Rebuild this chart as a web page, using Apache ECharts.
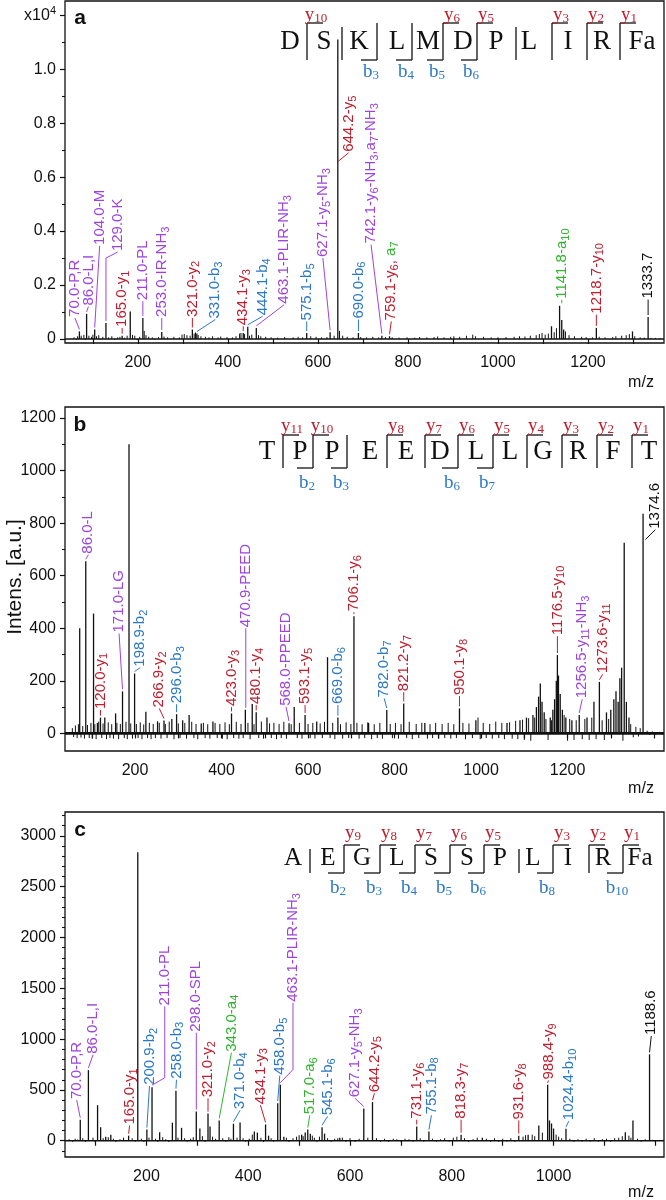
<!DOCTYPE html>
<html><head><meta charset="utf-8">
<script src="https://cdn.jsdelivr.net/npm/echarts@6/dist/echarts.min.js"></script>
<style>html,body{margin:0;padding:0;background:#fff}#c{width:666px;height:1200px}</style>
</head><body><div id="c"></div>
<script>
// ================= DATA =================
// Panel a (intensity in x10^4)
const peaksA = [[70,0.028],[86,0.093],[104,0.035],[129,0.059],[165,0.012],[183,0.102],[211,0.078],[253,0.026],[321,0.035],[331,0.02],[434.1,0.022],[444.1,0.045],[463.1,0.041],[575.1,0.022],[627.1,0.025],[644.2,1.11],[690,0.022],[742.1,0.012],[759.1,0.01],[1119,0.047],[1137,0.123],[1141.8,0.07],[1146,0.035],[1218.7,0.041],[1299,0.028],[1333.7,0.081]];
const noiseA = [[58,0.006],[63,-0.003],[66,0.01],[74,0.012],[80,0.015],[83,-0.004],[91,0.012],[97,0.008],[100,0.016],[108,0.01],[113,0.014],[118,-0.003],[122,0.008],[135,0.006],[142,0.01],[148,-0.004],[155,0.006],[160,0.008],[170,0.005],[176,0.012],[188,0.015],[193,0.012],[198,-0.004],[204,0.008],[214,0.03],[218,0.014],[224,0.008],[232,0.006],[238,-0.003],[246,0.007],[258,0.009],[266,0.006],[280,0.008],[292,0.006],[298,0.016],[303,0.018],[309,0.014],[316,0.012],[325,0.02],[328,0.024],[334,0.015],[340,0.01],[350,0.008],[358,0.006],[366,0.01],[378,0.006],[384,0.009],[398,0.007],[410,0.006],[418,0.01],[426,0.02],[429,0.022],[437,0.018],[448,0.012],[453,0.016],[468,0.014],[473,0.01],[484,0.008],[496,0.006],[510,0.005],[526,0.007],[545,0.006],[556,0.008],[566,0.006],[584,0.01],[596,0.008],[608,0.006],[620,0.007],[636,0.012],[648,0.03],[655,0.012],[665,0.008],[678,0.006],[695,0.007],[708,0.006],[722,0.008],[735,0.006],[750,0.007],[765,0.006],[780,0.005],[798,0.006],[815,0.005],[826,0.007],[842,0.006],[858,0.007],[866,0.009],[880,0.006],[895,0.008],[902,0.01],[915,0.008],[930,0.012],[944,0.016],[950,0.01],[968,0.008],[985,0.006],[1000,0.006],[1018,0.007],[1036,0.008],[1048,0.01],[1060,0.009],[1072,0.012],[1085,0.014],[1092,0.018],[1098,0.022],[1105,0.016],[1112,0.02],[1125,0.025],[1130,0.04],[1150,0.028],[1158,0.014],[1170,0.01],[1186,0.008],[1196,0.007],[1210,0.006],[1225,0.008],[1238,0.006],[1255,0.007],[1262,0.01],[1275,0.012],[1285,0.014],[1292,0.018],[1304,0.01],[1316,0.006],[1325,0.005],[1340,0.004],[1350,0.004],[1360,0.003]];
const labelsA = [
 [70,'70.0-P,R','p'],[86,'86.0-L,I','p'],[104,'104.0-M','p'],[129,'129.0-K','p'],
 [165,'165.0-y{s|1}','r'],[211,'211.0-PL','p'],[253,'253.0-IR-NH{s|3}','p'],
 [321,'321.0-y{s|2}','r'],[331,'331.0-b{s|3}','b'],[434.1,'434.1-y{s|3}','r'],
 [444.1,'444.1-b{s|4}','b'],[463.1,'463.1-PLIR-NH{s|3}','p'],[575.1,'575.1-b{s|5}','b'],
 [627.1,'627.1-y{s|5}-NH{s|3}','p'],[644.2,'644.2-y{s|5}','r'],[690,'690.0-b{s|6}','b'],
 [742.1,'742.1-y{s|6}-NH{s|3},a{s|7}-NH{s|3}','p'],[759.1,'759.1-y{s|6}, {g|a}{gs|7}','r'],
 [1141.8,'1141.8-a{s|10}','g'],[1218.7,'1218.7-y{s|10}','r'],[1333.7,'1333.7','k']
];
// Panel b (a.u.)
const peaksB = [[72,400],[86,655],[104,456],[113,40],[120,60],[130,60],[155,76],[171,160],[186,1100],[198.9,228],[225,82],[252,46],[266.9,49],[285,55],[296,73],[310,50],[325,70],[353,38],[380,45],[423,76],[455,90],[470.9,112],[480.1,80],[505,60],[556,39],[568,100],[593.1,70],[620,45],[645,290],[669,60],[706.1,446],[740,40],[782,89],[821.2,114],[870,40],[950.1,95],[988,50],[1060,40],[1090,50],[1105,60],[1120,70],[1128,100],[1133,140],[1137,190],[1141,120],[1146,80],[1160,60],[1166,90],[1170,130],[1174,200],[1176.5,298],[1179,220],[1183,150],[1188,90],[1196,60],[1210,50],[1227,70],[1245,60],[1261,120],[1273.6,196],[1290,80],[1300,90],[1307,130],[1312,160],[1317,120],[1321,210],[1325,250],[1331,725],[1336,120],[1342,60],[1374.6,836]];
const noiseB = [[55,20],[58,-14],[62,30],[66,-18],[69,35],[75,-16],[79,28],[83,-20],[90,32],[94,-18],[98,40],[101,-20],[107,35],[110,-22],[116,45],[123,-18],[126,38],[134,-22],[138,42],[142,-18],[146,35],[150,-20],[158,40],[162,-22],[166,36],[175,-18],[179,44],[182,-22],[190,38],[194,-20],[203,36],[207,-18],[212,42],[216,-22],[220,34],[229,-18],[233,40],[237,-22],[242,36],[247,-18],[256,40],[260,-20],[270,36],[274,-18],[279,45],[290,-22],[300,38],[304,-18],[315,40],[319,-20],[331,44],[336,-18],[341,36],[345,-22],[358,40],[362,-18],[368,35],[373,-20],[385,40],[390,-18],[396,36],[402,-20],[408,42],[413,-22],[418,35],[428,-18],[434,44],[440,-20],[445,36],[450,-18],[461,40],[466,-22],[475,35],[486,-18],[492,45],[497,-20],[511,38],[515,-18],[521,40],[527,-22],[533,36],[538,-18],[544,44],[550,-20],[561,35],[575,-18],[580,40],[586,-20],[600,36],[605,-18],[611,40],[616,-20],[628,38],[633,-18],[638,44],[651,-18],[657,40],[662,-22],[675,35],[680,-20],[688,42],[694,-18],[699,36],[713,40],[718,-20],[725,35],[731,-18],[738,42],[747,-22],[753,35],[760,-18],[766,40],[772,-20],[790,36],[795,-18],[802,40],[809,-20],[815,35],[828,-18],[834,44],[841,-22],[850,36],[856,-18],[863,40],[876,-20],[882,35],[888,-18],[895,40],[902,-20],[910,36],[916,-18],[924,40],[930,-20],[937,35],[943,-18],[958,40],[964,-22],[972,38],[980,-18],[993,60],[998,-22],[1005,40],[1012,-18],[1020,36],[1026,-20],[1034,45],[1041,-18],[1048,40],[1054,-22],[1066,42],[1072,-20],[1080,48],[1085,-22],[1096,52],[1100,-25],[1110,58],[1115,-28],[1124,60],[1150,55],[1155,-25],[1163,50],[1192,70],[1200,-28],[1205,55],[1215,-25],[1220,50],[1234,-22],[1240,55],[1250,-25],[1256,60],[1266,-22],[1280,50],[1285,-25],[1295,55],[1328,-28],[1346,35],[1352,-15],[1358,25],[1364,-12],[1368,20],[1384,10],[1390,-6],[1396,8],[1404,-5],[1412,6],[1418,-4]];
const labelsB = [
 [86,'86.0-L','p'],[120,'120.0-y{s|1}','r'],[171,'171.0-LG','p'],[198.9,'198.9-b{s|2}','b'],
 [266.9,'266.9-y{s|2}','r'],[296,'296.0-b{s|3}','b'],[423,'423.0-y{s|3}','r'],
 [470.9,'470.9-PEED','p'],[480.1,'480.1-y{s|4}','r'],[568,'568.0-PPEED','p'],
 [593.1,'593.1-y{s|5}','r'],[669,'669.0-b{s|6}','b'],[706.1,'706.1-y{s|6}','r'],
 [782,'782.0-b{s|7}','b'],[821.2,'821.2-y{s|7}','r'],[950.1,'950.1-y{s|8}','r'],
 [1176.5,'1176.5-y{s|10}','r'],[1256.5,'1256.5-y{s|11}-NH{s|3}','p'],
 [1273.6,'1273.6-y{s|11}','r'],[1374.6,'1374.6','k']
];
// Panel c (a.u.)
const peaksC = [[70,207],[86,695],[104,350],[110,133],[120,40],[130,60],[165,50],[183,2840],[200.9,110],[211,527],[226,83],[251,177],[258,493],[269,127],[298,287],[305,120],[321,267],[325,140],[343,200],[371,167],[384,180],[412,90],[418,80],[434.1,160],[440,50],[458,370],[463.1,551],[470,40],[505,60],[512,80],[517,110],[522,70],[545.1,133],[550,70],[580,30],[627.1,317],[644.2,380],[731.1,140],[755.1,90],[818.3,60],[860,30],[931.6,50],[950,60],[971,150],[988.4,550],[992,200],[996,170],[1000,120],[1024.4,117],[1141,83],[1156,200],[1188.6,850]];
const noiseC = [[48,15],[55,-10],[60,20],[65,12],[75,25],[80,-12],[95,30],[99,-10],[115,25],[125,35],[135,20],[140,-12],[148,15],[155,30],[172,25],[178,-10],[190,20],[195,-12],[205,30],[218,20],[222,-10],[232,35],[238,15],[244,-12],[262,30],[275,25],[280,-10],[287,20],[292,35],[310,45],[315,-12],[330,40],[336,20],[350,25],[356,-10],[362,35],[366,20],[378,30],[390,25],[395,-10],[402,20],[408,60],[425,30],[430,-12],[445,25],[450,-10],[475,30],[480,-12],[488,25],[495,40],[500,55],[508,45],[526,50],[530,30],[535,-10],[540,40],[556,25],[563,-10],[570,20],[576,25],[585,30],[592,-10],[600,25],[610,-12],[618,20],[635,30],[652,25],[660,-10],[668,20],[676,-12],[685,20],[692,15],[700,-10],[708,20],[716,15],[724,-10],[738,25],[745,-8],[762,20],[770,-10],[778,15],[786,25],[795,-8],[803,30],[810,40],[825,25],[833,-10],[842,15],[850,30],[868,20],[876,-10],[884,25],[892,-10],[900,20],[908,-8],[916,25],[924,-10],[940,40],[945,55],[958,60],[963,45],[978,80],[1005,60],[1010,40],[1016,25],[1032,20],[1040,-10],[1048,15],[1056,-10],[1064,20],[1072,-8],[1080,25],[1088,-10],[1096,15],[1104,20],[1112,-10],[1120,25],[1128,30],[1135,45],[1148,50],[1152,30],[1165,20],[1172,-10],[1180,15],[1195,10],[1200,-8],[1208,8]];
const labelsC = [
 [70,'70.0-P,R','p'],[86,'86.0-L,I','p'],[165,'165.0-y{s|1}','r'],[200.9,'200.9-b{s|2}','b'],
 [211,'211.0-PL','p'],[258,'258.0-b{s|3}','b'],[298,'298.0-SPL','p'],[321,'321.0-y{s|2}','r'],
 [343,'343.0-a{s|4}','g'],[371,'371.0-b{s|4}','b'],[434.1,'434.1-y{s|3}','r'],[458,'458.0-b{s|5}','b'],
 [463.1,'463.1-PLIR-NH{s|3}','p'],[517,'517.0-a{s|6}','g'],[545.1,'545.1-b{s|6}','b'],
 [627.1,'627.1-y{s|5}-NH{s|3}','p'],[644.2,'644.2-y{s|5}','r'],[731.1,'731.1-y{s|6}','r'],
 [755.1,'755.1-b{s|8}','b'],[818.3,'818.3-y{s|7}','r'],[931.6,'931.6-y{s|8}','r'],
 [988.4,'988.4-y{s|9}','r'],[1024.4,'1024.4-b{s|10}','b'],[1188.6,'1188.6','k']
];
// Axis tick values / labels
const xTicksA = [100,200,300,400,500,600,700,800,900,1000,1100,1200,1300];
const xLabelsA = [200,400,600,800,1000,1200];
const xTicksB = [100,200,300,400,500,600,700,800,900,1000,1100,1200,1300,1400];
const xLabelsB = [200,400,600,800,1000,1200];
const xTicksC = [100,200,300,400,500,600,700,800,900,1000,1100,1200];
const xLabelsC = [200,400,600,800,1000];
const yMajorA = [0,0.2,0.4,0.6,0.8,1.0,1.2];
const yMinorA = [0.1,0.3,0.5,0.7,0.9,1.1];
const yMajorB = [0,200,400,600,800,1000,1200];
const yMinorB = [100,300,500,700,900,1100];
const yMajorC = [0,500,1000,1500,2000,2500,3000];
const yMinorC = [-100,100,200,300,400,600,700,800,900,1100,1200,1300,1400,1600,1700,1800,1900,2100,2200,2300,2400,2600,2700,2800,2900,3100,3200];
// Peptide sequences and fragment ions
const seqA = ['D','S','K','L','M','D','P','L','I','R','Fa'];
const yIonA = ['y10',null,null,null,'y6','y5',null,'y3','y2','y1'];
const bIonA = [null,null,'b3','b4','b5','b6',null,null,null,null];
const seqB = ['T','P','P','E','E','D','L','L','G','R','F','T'];
const yIonB = ['y11','y10',null,'y8','y7','y6','y5','y4','y3','y2','y1'];
const bIonB = [null,'b2','b3',null,null,'b6','b7',null,null,null,null];
const seqC = ['A','E','G','L','S','S','P','L','I','R','Fa'];
const yIonC = [null,'y9','y8','y7','y6','y5',null,'y3','y2','y1'];
const bIonC = [null,'b2','b3','b4','b5','b6',null,'b8',null,'b10'];

// ================= LAYOUT / STYLE =================
// label anchors: [labelMz, labelY, startMz, startY, elbow[mz,y]]
const anchorsA = [[60,0.078],[90,0.12],[115,0.345],[155,0.322,null,null,[129,0.30]],[165,0.041],[211,0.14],[253,0.078],[321,0.078],[372,0.072],[434.1,0.047],[477,0.084],[525,0.127],[575.1,0.065],[611,0.30],[668,0.69,644.2,0.65],[690,0.072],[718,0.35],[763,0.065],[1141.8,0.145,1141.8,0.125],[1218.7,0.09],[1333.7,0.146]];
const anchorsB = [[92,680],[120,89],[163,380],[212,250],[256,95],[296,111],[423,100],[456,400,456,90],[480.1,108],[549,101,556,39],[593.1,108],[669,108],[706.1,461],[776,133],[821.2,157],[950.1,142],[1176.5,370],[1234,130,1227,70],[1281,225],[1403,775,1380,730]];
const anchorsC = [[63,400],[95,846],[167,150],[206,540],[236,1322,null,null,[236,620]],[259,600],[298,1063],[321,417],[367,866],[384,300],[424,350],[462,640],[488,1358,null,null,[488,700]],[521,250],[556,240],[610,417],[648,467],[731.1,207],[760,250],[818.3,207],[931.6,200],[990,593],[1030,193],[1192,1030]];
const seqLayout = [
 {lx:[290,324,359,397,428,463,496,529,568,602,642], sx:[307,342,377,412,443,477,516,552,587,620], yc:42, fs:27, top:23, bot:60, yl:15, bl:72},
 {lx:[267,300,332,370,406,440,476,510,543,578,613,649], sx:[283,313,347,387,425,458,493,527,562,597,632], yc:452, fs:27, top:435, bot:468, yl:426, bl:483},
 {lx:[293,328,362,397,431,467,500,533,568,603,640], sx:[310,344,380,415,450,484,519,553,589,623], yc:858, fs:25, top:845, bot:873, yl:833, bl:888}
];
const GRIDS = [{left:65,top:1,width:599,height:342},{left:65,top:407,width:599,height:344},{left:65,top:812,width:599,height:345}];
const XR = [[38,1369],[38,1423],[40,1217]];
const YR = [[-0.015,1.253],[-67,1242],[-160,3235]];
const FONT = '"Liberation Sans", Arial, Helvetica, sans-serif';
const SERIF = '"Liberation Serif", "Times New Roman", serif';
const COL = {r:'#be1e2d', b:'#2b78c6', p:'#9d44e0', g:'#2fb52f', k:'#111111'};
const INK = '#111';

function topOf(peaks, mz){ const p = peaks.find(q => Math.abs(q[0]-mz) < 0.05); return p ? p[1] : 0; }
function richFor(c){
  return {
    s:{fill:c,fontSize:11,fontFamily:FONT,lineHeight:11,verticalAlign:'bottom'},
    g:{fill:COL.g,fontSize:15,fontFamily:FONT,lineHeight:19},
    gs:{fill:COL.g,fontSize:11,fontFamily:FONT,lineHeight:11,verticalAlign:'bottom'}
  };
}
function stickSeries(g, data, w){
  return {type:'custom', xAxisIndex:g, yAxisIndex:g*2, coordinateSystem:'cartesian2d', clip:true, silent:true, z:3,
    data:data,
    renderItem:(p, api) => {
      const x = api.value(0), y = api.value(1);
      const a = api.coord([x,0]), b = api.coord([x,y]);
      return {type:'line', shape:{x1:a[0],y1:a[1],x2:b[0],y2:b[1]}, style:{stroke:INK,lineWidth:w}};
    }};
}
function baseSeries(g, w){
  return {type:'line', xAxisIndex:g, yAxisIndex:g*2, data:[[XR[g][0],0],[XR[g][1],0]], showSymbol:false, symbol:'none', silent:true, z:2, lineStyle:{color:INK,width:w}};
}
function labelSeries(g, peaks, labels, anchors){
  return {type:'custom', xAxisIndex:g, yAxisIndex:g*2, coordinateSystem:'cartesian2d', clip:false, silent:true, z:5,
    data: anchors.map(a => [a[0], a[1]]),
    renderItem:(params, api) => {
      const i = params.dataIndex, l = labels[i], a = anchors[i];
      const c = COL[l[2]];
      const sx = a[2] != null ? a[2] : l[0];
      const sy = a[3] != null ? a[3] : topOf(peaks, l[0]);
      const p0 = api.coord([sx, sy]); p0[1] -= 2;
      const pts = [p0];
      if (a[4]) pts.push(api.coord(a[4]));
      const p1 = api.coord([a[0], a[1]]);
      pts.push(p1);
      return {type:'group', children:[
        {type:'polyline', shape:{points:pts}, style:{stroke:c, lineWidth:1, fill:null}},
        {type:'text', x:p1[0], y:p1[1]-1, rotation:Math.PI/2,
         style:{text:l[1], fill:c, fontSize:15, fontFamily:FONT, lineHeight:19,
                align:'left', verticalAlign:'middle', textAlign:'left', textVerticalAlign:'middle', rich:richFor(c)}}
      ]};
    }};
}
function ionText(name, x, y, c){
  const t = '{m|' + name[0] + '}{s|' + name.slice(1) + '}';
  return {type:'text', x:x, y:y, silent:true, z:10,
    style:{text:t, fill:c, align:'center', verticalAlign:'middle', textAlign:'center', textVerticalAlign:'middle',
      rich:{m:{fill:c,fontSize:19,fontFamily:SERIF,lineHeight:20}, s:{fill:c,fontSize:13,fontFamily:SERIF,lineHeight:12,verticalAlign:'bottom'}}}};
}
function seqGraphics(letters, yIons, bIons, L){
  const els = [];
  const ln = (x1,y1,x2,y2) => ({type:'line', silent:true, z:10, shape:{x1,y1,x2,y2}, style:{stroke:INK,lineWidth:1.3}});
  letters.forEach((t,i) => els.push({type:'text', x:L.lx[i], y:L.yc, silent:true, z:10,
    style:{text:t, fill:INK, font:L.fs+'px '+SERIF, align:'center', verticalAlign:'middle', textAlign:'center', textVerticalAlign:'middle'}}));
  L.sx.forEach((x,i) => {
    const yi = yIons[i], bi = bIons[i];
    els.push(ln(x, (yi||bi) ? L.top : L.top+4, x, L.bot));
    if (yi){ els.push(ln(x, L.top, x+16, L.top)); els.push(ionText(yi, x+9, L.yl, COL.r)); }
    if (bi){ els.push(ln(x-16, L.bot, x, L.bot)); els.push(ionText(bi, x-6, L.bl, COL.b)); }
  });
  return els;
}
function txt(s, x, y, size, opts){
  return Object.assign({type:'text', x:x, y:y, silent:true, z:10,
    style:Object.assign({text:s, fill:INK, font:size+'px '+FONT, align:'center', verticalAlign:'middle', textAlign:'center', textVerticalAlign:'middle'}, (opts&&opts.style)||{})},
    opts ? {rotation:opts.rotation||0} : {});
}

const xTickSets = [[xTicksA,xLabelsA],[xTicksB,xLabelsB],[xTicksC,xLabelsC]];
const yTickSets = [[yMajorA,yMinorA],[yMajorB,yMinorB],[yMajorC,yMinorC]];
const labelStyle = {color:INK, fontSize:16, fontFamily:FONT};

const xAxes = [0,1,2].map(g => ({type:'value', gridIndex:g, min:XR[g][0], max:XR[g][1],
  axisLine:{show:false}, splitLine:{show:false},
  axisTick:{show:true, customValues:xTickSets[g][0], length:5, lineStyle:{color:INK,width:1.2}},
  axisLabel:Object.assign({customValues:xTickSets[g][1], margin:12, formatter: v => String(v)}, labelStyle)}));
const yAxes = [];
[0,1,2].forEach(g => {
  yAxes.push({type:'value', gridIndex:g, min:YR[g][0], max:YR[g][1], position:'left',
    axisLine:{show:false}, splitLine:{show:false},
    axisTick:{show:true, customValues:yTickSets[g][0], length:5, lineStyle:{color:INK,width:1.2}},
    axisLabel:Object.assign({customValues:yTickSets[g][0], margin:9,
      formatter: g === 0 ? (v => v === 0 ? '0' : (Math.abs(v-1.2) < 1e-6 ? '{t|x10}{u|4}' : v.toFixed(1))) : (v => String(v)),
      rich:{t:{fontSize:16,fontFamily:FONT,color:INK,lineHeight:20}, u:{fontSize:11,fontFamily:FONT,color:INK,lineHeight:11,verticalAlign:'top'}}
    }, labelStyle)});
  yAxes.push({type:'value', gridIndex:g, min:YR[g][0], max:YR[g][1], position:'left',
    axisLine:{show:false}, splitLine:{show:false},
    axisTick:{show:true, customValues:yTickSets[g][1], length:3, lineStyle:{color:INK,width:1.1}},
    axisLabel:{show:false}});
});

const graphics = []
  .concat(seqGraphics(seqA, yIonA, bIonA, seqLayout[0]))
  .concat(seqGraphics(seqB, yIonB, bIonB, seqLayout[1]))
  .concat(seqGraphics(seqC, yIonC, bIonC, seqLayout[2]))
  .concat([
    txt('a', 80, 18, 21, {style:{font:'bold 21px '+FONT}}),
    txt('b', 80, 425, 21, {style:{font:'bold 21px '+FONT}}),
    txt('c', 80, 830, 21, {style:{font:'bold 21px '+FONT}}),
    txt('m/z', 641, 383, 16),
    txt('m/z', 641, 789, 16),
    txt('m/z', 641, 1193, 16),
    txt('Intens. [a.u.]', 15, 577, 21, {rotation:Math.PI/2})
  ]);

const chart = echarts.init(document.getElementById('c'), null, {renderer:'canvas'});
chart.setOption({
  animation:false,
  backgroundColor:'#fff',
  grid: GRIDS.map(g => Object.assign({show:true, borderColor:INK, borderWidth:1.3, backgroundColor:'transparent', containLabel:false}, g)),
  xAxis: xAxes,
  yAxis: yAxes,
  graphic: {elements: graphics},
  series: [
    baseSeries(0,1.6), stickSeries(0, noiseA, 1), stickSeries(0, peaksA, 1.3), labelSeries(0, peaksA, labelsA, anchorsA),
    baseSeries(1,2.6), stickSeries(1, noiseB, 1), stickSeries(1, peaksB, 1.3), labelSeries(1, peaksB, labelsB, anchorsB),
    baseSeries(2,1.6), stickSeries(2, noiseC, 1), stickSeries(2, peaksC, 1.3), labelSeries(2, peaksC, labelsC, anchorsC)
  ]
});
</script></body></html>
